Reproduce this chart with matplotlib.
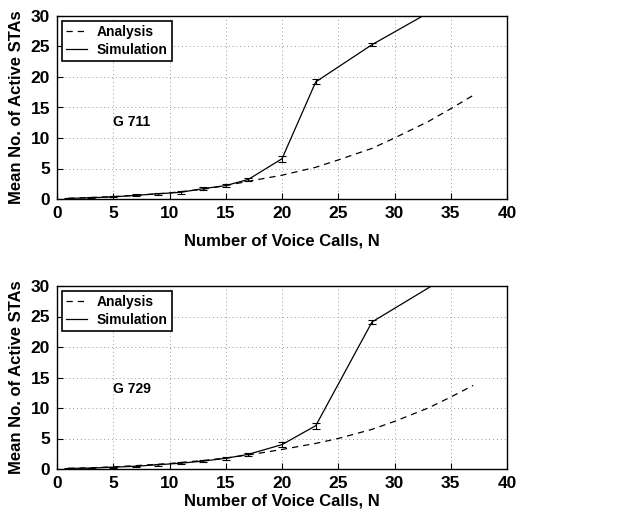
import matplotlib
matplotlib.use("Agg")
import matplotlib.pyplot as plt
from matplotlib.lines import Line2D
import numpy as np

# G.711
sim_x = [1, 3, 5, 7, 9, 11, 13, 15, 17, 20, 23, 28, 35]
sim711 = [0.1, 0.2, 0.35, 0.6, 0.85, 1.1, 1.7, 2.2, 3.2, 6.6, 19.2, 25.3, 32.6]
err711 = [0.05, 0.05, 0.1, 0.15, 0.15, 0.2, 0.25, 0.2, 0.3, 0.5, 0.4, 0.25, 0.3]
ana_x = [1, 3, 5, 7, 10, 13, 15, 17, 20, 23, 25, 28, 30, 33, 35, 37]
ana711 = [0.1, 0.25, 0.4, 0.6, 1.0, 1.6, 2.2, 2.9, 3.9, 5.2, 6.4, 8.3, 10.0, 12.7, 14.8, 17.0]

# G.729
sim729 = [0.1, 0.15, 0.3, 0.45, 0.7, 0.95, 1.3, 1.75, 2.4, 4.0, 7.1, 24.1, 31.9]
err729 = [0.05, 0.05, 0.1, 0.1, 0.15, 0.15, 0.2, 0.2, 0.3, 0.4, 0.5, 0.3, 0.3]
ana729 = [0.1, 0.2, 0.35, 0.55, 0.9, 1.4, 1.8, 2.3, 3.2, 4.2, 5.0, 6.5, 7.8, 10.0, 11.8, 13.7]

labels = ["G 711", "G 729"]
label_pos = [(5, 12), (5, 12.5)]

plt.rcParams['font.family'] = ['Liberation Sans', 'DejaVu Sans']
plt.rcParams['font.weight'] = 'bold'

fig = plt.figure(figsize=(6.34, 5.2), dpi=100)
W, H = 634, 520
boxes = [(57, 16, 507, 199), (57, 286, 507, 469)]
xlabelpads = [9, 2]
datasets = [(sim711, err711, ana711), (sim729, err729, ana729)]

dash = (0, (5, 4))
for (l, t, r, b), (sim, err, ana), lab, lp, lpad in zip(boxes, datasets, labels, label_pos, xlabelpads):
    ax = fig.add_axes([l / W, 1 - b / H, (r - l) / W, (b - t) / H])
    ax.plot(ana_x, ana, linestyle=dash, color='black', lw=0.9)
    ax.errorbar(sim_x, sim, yerr=err, color='black', lw=0.9, capsize=3,
                elinewidth=0.8, capthick=0.8)
    ax.set_xlim(0, 40)
    ax.set_ylim(0, 30)
    ax.set_xticks(np.arange(0, 41, 5))
    ax.set_yticks(np.arange(0, 31, 5))
    ax.grid(True, linestyle=(0, (1, 3)), color='#999999', lw=0.7)
    ax.tick_params(direction='in', labelsize=12.5, length=4, width=0.8, pad=5)
    for lbl in ax.get_xticklabels() + ax.get_yticklabels():
        lbl.set_fontweight('bold')
    for s in ax.spines.values():
        s.set_linewidth(1.0)
    ax.set_xlabel('Number of Voice Calls, N', fontsize=12, fontweight='bold', labelpad=lpad)
    ax.set_ylabel('Mean No. of Active STAs', fontsize=12, fontweight='bold', labelpad=5)
    ax.text(lp[0], lp[1], lab, fontsize=10, fontweight='bold')
    handles = [Line2D([], [], color='black', lw=0.9, linestyle=dash),
               Line2D([], [], color='black', lw=0.9)]
    leg = ax.legend(handles, ['Analysis', 'Simulation'], loc='upper left', fontsize=10,
                    fancybox=False, framealpha=1, edgecolor='black',
                    borderaxespad=0.35, handlelength=1.5, handletextpad=0.7,
                    borderpad=0.3, labelspacing=0.3)
    leg.get_frame().set_linewidth(1.2)
    for tx in leg.get_texts():
        tx.set_fontweight('bold')

fig.savefig('out.png', dpi=100)
